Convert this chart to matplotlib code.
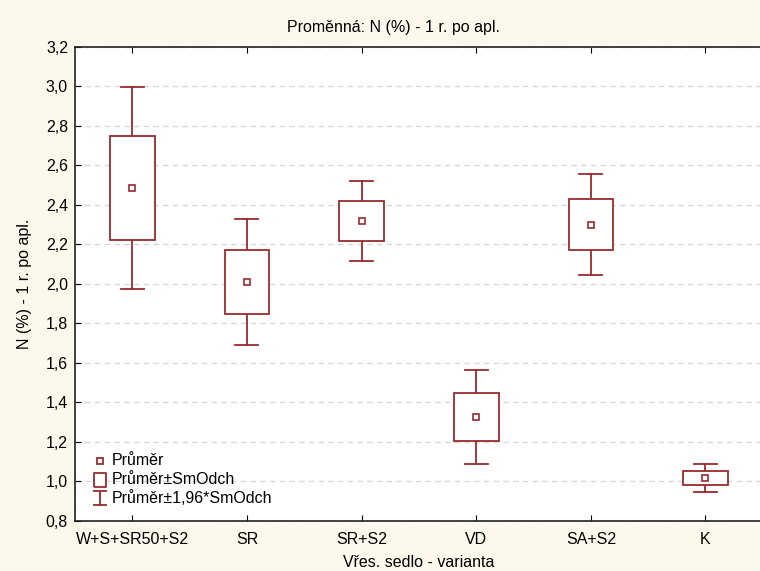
import matplotlib
matplotlib.use('Agg')
import matplotlib.pyplot as plt
from matplotlib.patches import Rectangle
from matplotlib.path import Path

plt.rcParams['font.family'] = ['Liberation Sans', 'DejaVu Sans']

categories = ['W+S+SR50+S2', 'SR', 'SR+S2', 'VD', 'SA+S2', 'K']
means = [2.485, 2.009, 2.318, 1.327, 2.299, 1.017]
sds = [0.262, 0.162, 0.103, 0.121, 0.130, 0.036]
yticks = [0.8, 1.0, 1.2, 1.4, 1.6, 1.8, 2.0, 2.2, 2.4, 2.6, 2.8, 3.0, 3.2]
legend_labels = ['Průměr', 'Průměr±SmOdch', 'Průměr±1,96*SmOdch']

RED = '#9a2a2e'
BG = '#fdf8ec'
FS = 11.5

fig = plt.figure(figsize=(7.6, 5.71), dpi=100, facecolor=BG)
ax = fig.add_axes([0.0987, 0.088, 0.905, 0.830])
ax.set_facecolor('white')

box_w = 0.39
cap_w = 0.2
for i, (m, s) in enumerate(zip(means, sds)):
    lo, hi = m - 1.96 * s, m + 1.96 * s
    ax.plot([i, i], [lo, m - s], color=RED, lw=1.3, zorder=3)
    ax.plot([i, i], [m + s, hi], color=RED, lw=1.3, zorder=3)
    ax.plot([i - cap_w / 2, i + cap_w / 2], [lo, lo], color=RED, lw=1.3, zorder=3)
    ax.plot([i - cap_w / 2, i + cap_w / 2], [hi, hi], color=RED, lw=1.3, zorder=3)
    ax.add_patch(Rectangle((i - box_w / 2, m - s), box_w, 2 * s,
                           facecolor='white', edgecolor=RED, lw=1.3, zorder=3))
    ax.plot(i, m, marker='s', ms=5, mfc='white', mec=RED, mew=1.2, zorder=4)

ax.set_xlim(-0.5, 5.5)
ax.set_ylim(0.8, 3.2)
ax.set_xticks(range(len(categories)))
ax.set_xticklabels(categories, fontsize=FS)
ax.set_yticks(yticks)
ax.set_yticklabels([f'{v:.1f}'.replace('.', ',') for v in yticks], fontsize=FS)
ax.tick_params(axis='x', direction='in', top=True, length=4, pad=8)
ax.tick_params(axis='y', direction='in', length=4, pad=5)
ax.yaxis.grid(True, linestyle=(0, (4, 3)), color='#d8d8d8', lw=1)
ax.set_axisbelow(True)
for sp in ax.spines.values():
    sp.set_color('#222222')
    sp.set_linewidth(1.2)

ax.set_ylabel('N (%) - 1 r. po apl.', fontsize=FS, labelpad=10)
ax.set_xlabel('Vřes. sedlo - varianta', fontsize=FS, labelpad=6)
fig.text(0.518, 0.952, 'Proměnná: N (%) - 1 r. po apl.', ha='center', va='center', fontsize=FS)

# legend, drawn by hand in figure coordinates
box_path = Path([(-0.85, -1), (0.85, -1), (0.85, 1), (-0.85, 1), (-0.85, -1)])
err_path = Path([(-0.9, -1), (0.9, -1), (0, -1), (0, 1), (-0.9, 1), (0.9, 1)],
                [Path.MOVETO, Path.LINETO, Path.MOVETO, Path.LINETO, Path.MOVETO, Path.LINETO])
glyphs = [('s', 5, 'white'), (box_path, 10.5, 'white'), (err_path, 10.5, 'none')]
rows_y = [0.193, 0.160, 0.127]
for (mk, size, fc), y, lab in zip(glyphs, rows_y, legend_labels):
    fig.lines.append(plt.Line2D([0.131], [y], transform=fig.transFigure, ls='none',
                                marker=mk, ms=size, mfc=fc, mec=RED, mew=1.3))
    fig.text(0.147, y, lab, ha='left', va='center', fontsize=FS)

fig.savefig('out.png', dpi=100, facecolor=BG)
